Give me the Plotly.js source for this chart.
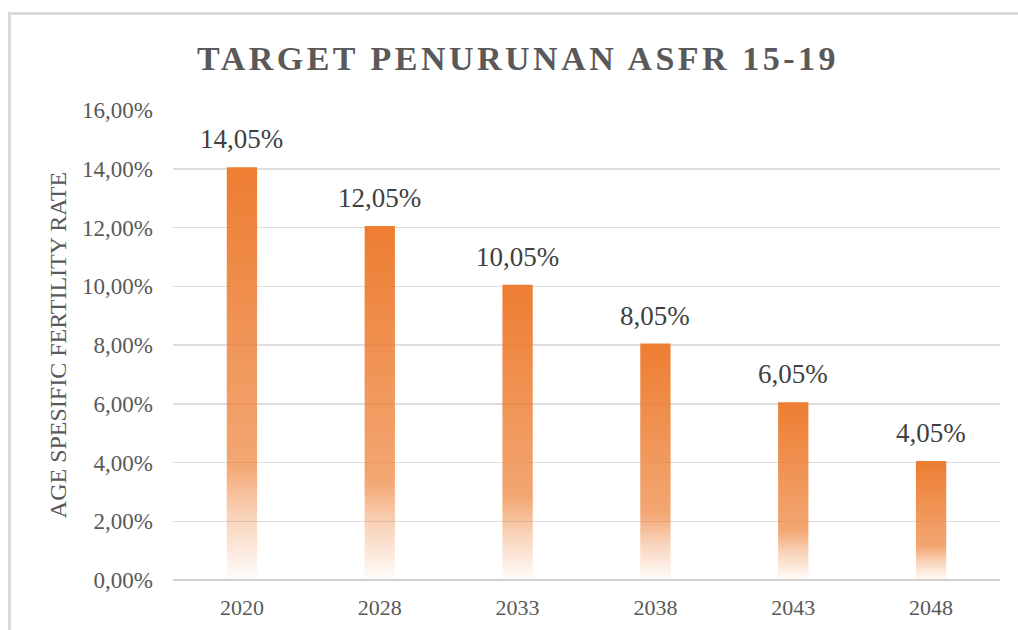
<!DOCTYPE html>
<html>
<head>
<meta charset="utf-8">
<script src="https://cdn.plot.ly/plotly-3.0.1.min.js"></script>
<style>
  html, body { margin: 0; padding: 0; background: #fff; }
  #wrap { position: relative; width: 1018px; height: 630px; overflow: hidden; }
  #chart { position: absolute; left: 0; top: 0; width: 1018px; height: 630px; }
  #frame { position: absolute; left: 8px; top: 12px; width: 1100px; height: 700px;
           border-left: 3px solid #d9d9d9; border-top: 3px solid #d9d9d9; pointer-events: none; }
</style>
</head>
<body>
<div id="wrap">
  <div id="chart"></div>
  <div id="frame"></div>
</div>
<script>
// ---- data ----
const years = ['2020', '2028', '2033', '2038', '2043', '2048'];
const asfr = [0.1405, 0.1205, 0.1005, 0.0805, 0.0605, 0.0405];
const yTickVals = [0, 0.02, 0.04, 0.06, 0.08, 0.10, 0.12, 0.14, 0.16];
const chartTitle = 'TARGET PENURUNAN ASFR 15-19';
const yTitle = 'AGE SPESIFIC FERTILITY RATE';

const serif = '"Liberation Serif", "Times New Roman", serif';

const trace = {
  type: 'bar',
  x: years,
  y: asfr,
  marker: { color: '#ED7D31', line: { width: 0 } },
  hoverinfo: 'x+y'
};

// value labels above each bar (category index + value from the data arrays)
const annotations = years.map((yr, i) => ({
  x: i, y: asfr[i], xref: 'x', yref: 'y',
  text: (asfr[i] * 100).toFixed(2).replace('.', ',') + '%',
  showarrow: false, yanchor: 'bottom', yshift: 11,
  font: { family: serif, size: 27, color: '#404040' }
}));

const layout = {
  width: 1018, height: 630,
  margin: { l: 173, r: 18, t: 110, b: 50 },
  paper_bgcolor: '#ffffff', plot_bgcolor: '#ffffff',
  separators: ',.',
  bargap: 0.78,
  showlegend: false,
  title: {
    text: chartTitle,
    x: 518 / 1018, xref: 'container', xanchor: 'center',
    y: 1 - 58 / 630, yref: 'container', yanchor: 'middle',
    font: { family: serif, size: 34, color: '#595959', weight: 'bold' }
  },
  xaxis: {
    type: 'category',
    range: [-0.5, years.length - 0.5],
    showgrid: false, zeroline: false,
    showline: false, ticks: '',
    ticklabelstandoff: 12,
    tickfont: { family: serif, size: 22, color: '#595959' }
  },
  yaxis: {
    range: [0, 0.16],
    tickvals: yTickVals,
    tickformat: '.2%',
    showgrid: true, gridcolor: '#dedede', gridwidth: 1.5,
    zeroline: true, zerolinecolor: '#d0d0d0', zerolinewidth: 2,
    showline: false, ticks: '',
    ticklabelstandoff: 19,
    tickfont: { family: serif, size: 23, color: '#595959' },
    title: { text: yTitle, standoff: 8, font: { family: serif, size: 24, color: '#595959' } }
  },
  annotations: annotations
};

Plotly.newPlot('chart', [trace], layout, { displayModeBar: false, staticPlot: true }).then(gd => {
  const svg = gd.querySelector('svg.main-svg');
  const ns = 'http://www.w3.org/2000/svg';
  let defs = svg.querySelector('defs');
  if (!defs) { defs = document.createElementNS(ns, 'defs'); svg.insertBefore(defs, svg.firstChild); }
  const grad = document.createElementNS(ns, 'linearGradient');
  grad.setAttribute('id', 'barGrad');
  grad.setAttribute('x1', '0'); grad.setAttribute('y1', '0');
  grad.setAttribute('x2', '0'); grad.setAttribute('y2', '1');
  [[0, 1], [0.72, 0.68], [0.84, 0.35], [1, 0.02]].forEach(([o, a]) => {
    const s = document.createElementNS(ns, 'stop');
    s.setAttribute('offset', o);
    s.setAttribute('stop-color', '#ED7D31');
    s.setAttribute('stop-opacity', a);
    grad.appendChild(s);
  });
  defs.appendChild(grad);
  gd.querySelectorAll('.barlayer .point path').forEach(p => {
    p.style.fill = 'url(#barGrad)';
    p.style.fillOpacity = 1;
  });
  const t = gd.querySelector('.g-gtitle text');
  if (t) t.style.letterSpacing = '3.5px';
});
</script>
</body>
</html>
